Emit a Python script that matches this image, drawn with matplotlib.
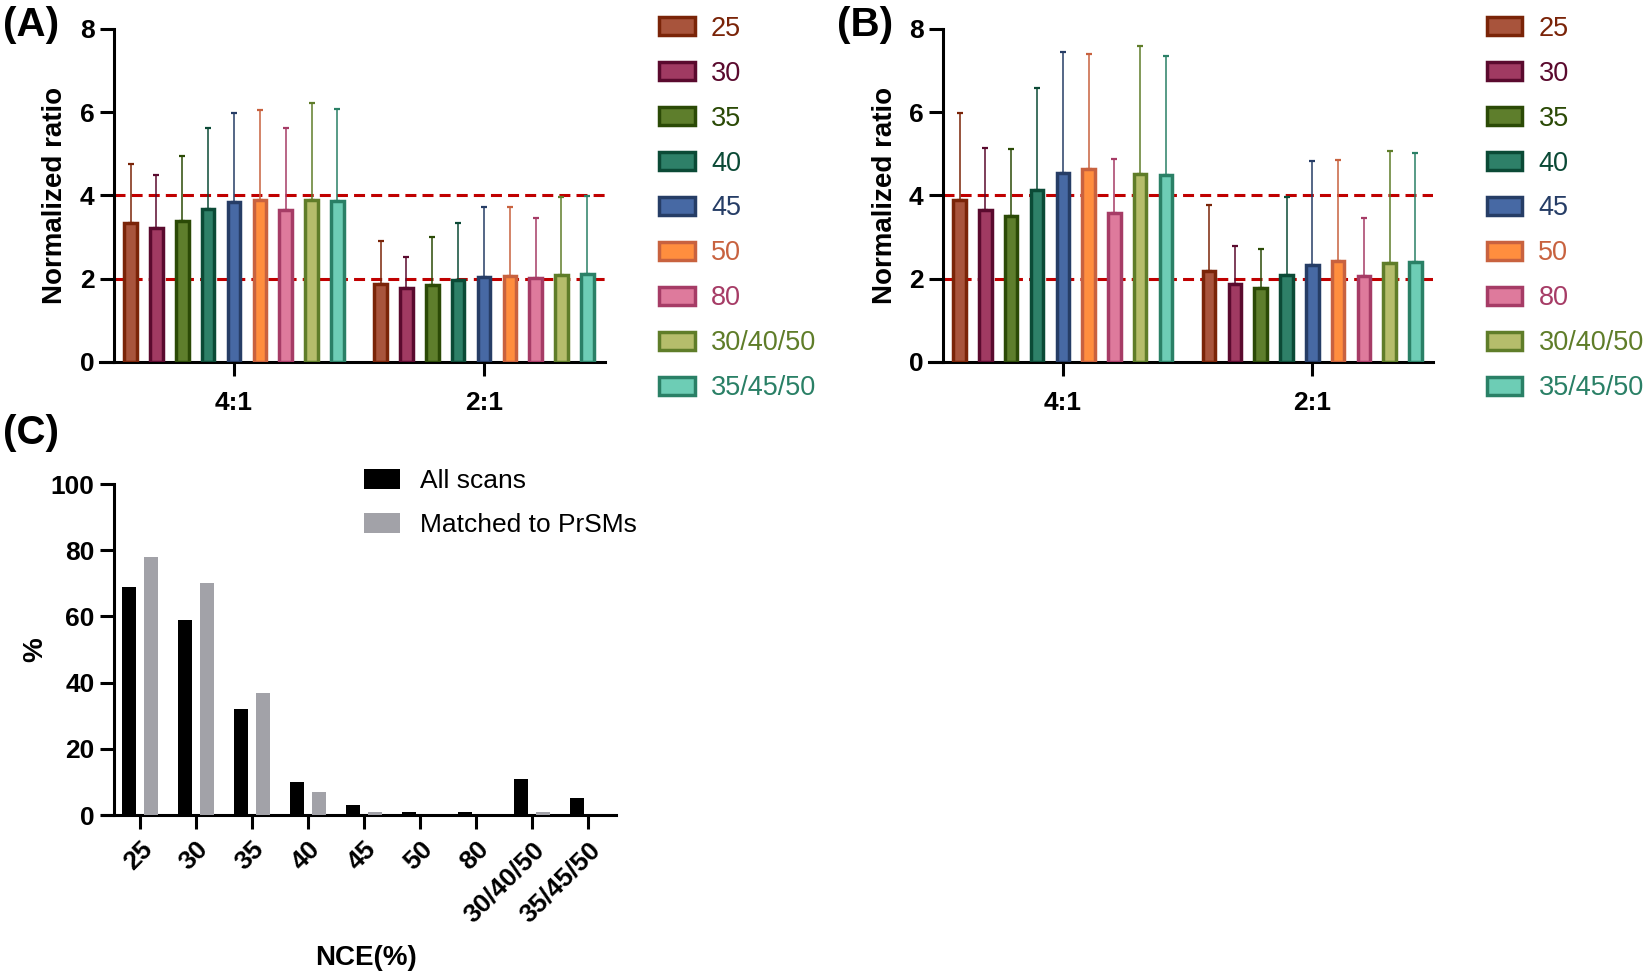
import numpy as np
import matplotlib.pyplot as plt

plt.rcParams['font.family'] = ['Liberation Sans', 'DejaVu Sans']

# --- data ---
nce = ['25', '30', '35', '40', '45', '50', '80', '30/40/50', '35/45/50']
ratios = ['4:1', '2:1']

# panel A: mean and upper SD end, per NCE, for 4:1 and 2:1
a_mean_41 = [3.34, 3.22, 3.38, 3.68, 3.84, 3.90, 3.64, 3.90, 3.86]
a_top_41 = [4.76, 4.49, 4.94, 5.61, 5.99, 6.05, 5.62, 6.22, 6.07]
a_mean_21 = [1.87, 1.78, 1.85, 1.96, 2.05, 2.07, 2.01, 2.10, 2.12]
a_top_21 = [2.90, 2.53, 3.00, 3.34, 3.72, 3.73, 3.45, 3.97, 3.98]

# panel B
b_mean_41 = [3.90, 3.66, 3.50, 4.14, 4.54, 4.64, 3.58, 4.52, 4.49]
b_top_41 = [5.97, 5.14, 5.11, 6.58, 7.45, 7.40, 4.88, 7.58, 7.36]
b_mean_21 = [2.18, 1.88, 1.77, 2.09, 2.34, 2.42, 2.06, 2.37, 2.39]
b_top_21 = [3.78, 2.79, 2.71, 3.96, 4.82, 4.85, 3.46, 5.08, 5.03]

# panel C: % of scans
all_scans = [69, 59, 32, 10, 3, 1, 1, 11, 5]
matched = [78, 70, 37, 7, 0.8, 0, 0, 0.8, 0]

edges = ['#7a2408', '#5a0a2e', '#2b4a06', '#0b4a36', '#263d66',
         '#c8623f', '#a63c66', '#5f7d29', '#2a8066']
fills = ['#a8543c', '#a03a62', '#5e7e2c', '#2e8068', '#4769a4',
         '#ff8e3e', '#de7a9c', '#b5bd6b', '#6dcdb5']

fig = plt.figure(figsize=(16.47, 9.72), dpi=100)


def style_axis(ax, spine_x):
    for s in ['top', 'right']:
        ax.spines[s].set_visible(False)
    for s in ['left', 'bottom']:
        ax.spines[s].set_linewidth(2.2)
    ax.spines['left'].set_position(('data', spine_x))
    ax.tick_params(direction='out', length=10, width=2.2, pad=4)
    for lab in ax.get_xticklabels() + ax.get_yticklabels():
        lab.set_fontweight('bold')
        lab.set_fontsize(19)


def ratio_panel(rect, means, tops, label_x, legend_x):
    ax = fig.add_axes(rect)
    x = np.arange(len(ratios))
    pitch = 0.1034
    handles = []
    for i in range(len(nce)):
        m = np.array([means[0][i], means[1][i]])
        t = np.array([tops[0][i], tops[1][i]])
        bc = ax.bar(x + (i - 4) * pitch, m, width=0.05, color=fills[i],
                    edgecolor=edges[i], linewidth=2.5, zorder=3,
                    yerr=[np.zeros(2), t - m],
                    error_kw=dict(ecolor=edges[i], elinewidth=1.1,
                                  capsize=2.5, capthick=1.6, zorder=2))
        handles.append(bc)
    ax.hlines([4, 2], -0.48, 1.484, colors='#c00000', linestyles=(0, (3.6, 2)),
              linewidth=2.2, zorder=1)
    ax.set_xlim(-0.536, 1.484)
    ax.set_ylim(0, 8)
    ax.set_yticks([0, 2, 4, 6, 8])
    ax.set_xticks(x)
    ax.set_xticklabels(ratios)
    style_axis(ax, -0.48)
    ax.tick_params(axis='x', pad=11)
    ax.set_ylabel('Normalized ratio', fontsize=20, fontweight='bold')
    ax.yaxis.set_label_coords(label_x, 0.5)
    leg = ax.legend(handles, nce, loc='upper left', frameon=False,
                    bbox_to_anchor=(legend_x, 1.04), bbox_transform=ax.transAxes,
                    fontsize=19.5, handlelength=1.3, handleheight=0.68,
                    handletextpad=0.6, labelspacing=0.7, borderpad=0,
                    borderaxespad=0)
    for txt, c in zip(leg.get_texts(), edges):
        txt.set_color(c)
    return ax


ax_a = ratio_panel([0.0607, 0.6276, 0.3066, 0.3426],
                   [a_mean_41, a_mean_21], [a_top_41, a_top_21], -0.063, 1.108)
ax_b = ratio_panel([0.5641, 0.6276, 0.3060, 0.3426],
                   [b_mean_41, b_mean_21], [b_top_41, b_top_21], -0.061, 1.107)

fig.text(0.002, 0.994, '(A)', fontsize=29, fontweight='bold', va='top', ha='left')
fig.text(0.508, 0.994, '(B)', fontsize=29, fontweight='bold', va='top', ha='left')
fig.text(0.002, 0.574, '(C)', fontsize=29, fontweight='bold', va='top', ha='left')

# panel C
ax_c = fig.add_axes([0.0619, 0.1615, 0.3121, 0.3405])
xc = np.arange(len(nce))
ax_c.bar(xc - 0.19, all_scans, width=0.25, color='black', label='All scans', zorder=3)
ax_c.bar(xc + 0.19, matched, width=0.25, color='#a2a2a8', label='Matched to PrSMs', zorder=3)
ax_c.set_xlim(-0.68, 8.5)
ax_c.set_ylim(0, 100)
ax_c.set_yticks([0, 20, 40, 60, 80, 100])
ax_c.set_xticks(xc)
ax_c.set_xticklabels(nce, rotation=45, ha='right', rotation_mode='anchor')
style_axis(ax_c, -0.464)
ax_c.tick_params(axis='x', pad=6)
ax_c.set_ylabel('%', fontsize=20, fontweight='bold')
ax_c.yaxis.set_label_coords(-0.105, 0.5)
ax_c.set_xlabel('NCE(%)', fontsize=20, fontweight='bold')
ax_c.xaxis.set_label_coords(0.514, -0.393)
ax_c.legend(loc='upper left', frameon=False, bbox_to_anchor=(0.51, 1.047),
            fontsize=19, handlelength=1.35, handleheight=0.8, handletextpad=0.75,
            labelspacing=0.75, borderpad=0, borderaxespad=0)

fig.savefig('out.png', dpi=100)
